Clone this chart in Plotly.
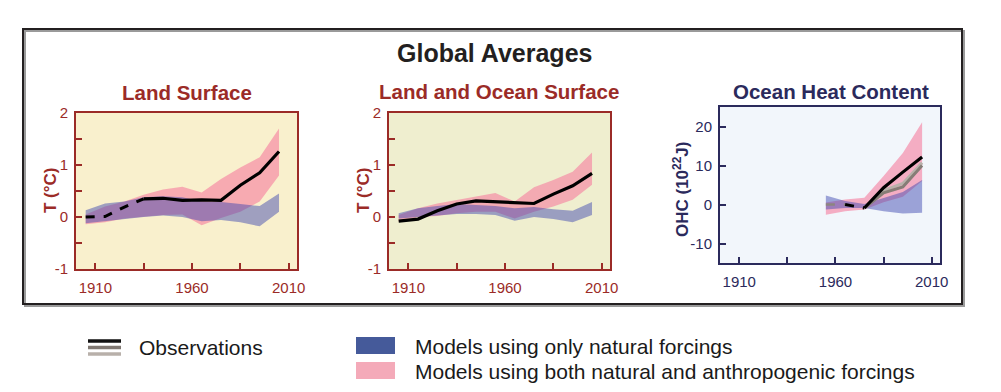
import plotly.graph_objects as go
import numpy as np

W, H = 1001, 392

# ---------------- data ----------------
decades = [1905, 1915, 1925, 1935, 1945, 1955, 1965, 1975, 1985, 1995, 2005]

land_obs = [0.00, 0.01, 0.19, 0.35, 0.36, 0.32, 0.33, 0.32, 0.61, 0.85, 1.26]
land_both_lo = [-0.14, -0.10, -0.03, 0.00, 0.04, 0.05, -0.16, -0.02, 0.10, 0.30, 0.80]
land_both_hi = [0.05, 0.20, 0.30, 0.43, 0.53, 0.58, 0.47, 0.73, 0.95, 1.15, 1.70]
land_nat_lo = [-0.12, -0.08, -0.03, 0.00, 0.03, 0.00, -0.08, -0.06, -0.10, -0.18, 0.10]
land_nat_hi = [0.13, 0.26, 0.30, 0.38, 0.40, 0.38, 0.30, 0.29, 0.25, 0.21, 0.45]

lo_obs = [-0.08, -0.04, 0.12, 0.25, 0.31, 0.29, 0.28, 0.26, 0.44, 0.60, 0.84]
lo_both_lo = [-0.09, 0.00, 0.02, 0.07, 0.10, 0.10, -0.03, 0.10, 0.20, 0.33, 0.62]
lo_both_hi = [0.04, 0.17, 0.26, 0.33, 0.39, 0.46, 0.30, 0.57, 0.71, 0.87, 1.24]
lo_nat_lo = [-0.03, 0.00, 0.02, 0.06, 0.06, 0.04, -0.07, 0.00, -0.04, -0.10, 0.04]
lo_nat_hi = [0.07, 0.17, 0.21, 0.25, 0.23, 0.21, 0.17, 0.19, 0.15, 0.12, 0.29]

ohc_years = [1955, 1965, 1975, 1985, 1995, 2005]
ohc_obs_black = [np.nan, 0.0, -0.9, 4.3, 8.3, 12.2]
ohc_obs_grey = [0.0, 0.0, -0.9, 3.0, 4.5, 10.0]
ohc_obs_lightgrey = [np.nan, np.nan, -0.9, 3.6, 5.4, 10.7]
ohc_both_lo = [-2.6, -1.7, -1.3, 0.6, 2.0, 6.0]
ohc_both_hi = [0.5, 1.3, 1.7, 7.3, 13.2, 21.1]
ohc_nat_lo = [-1.3, -0.9, -0.9, -1.7, -2.3, -2.1]
ohc_nat_hi = [2.3, 0.9, 0.1, 1.7, 3.2, 6.3]

x_major = [1910, 1960, 2010]
x_minor = [1935, 1985]
t_major = [-1, 0, 1, 2]
t_major_text = ["-1", "0", "1", "2"]
t_minor = [-0.5, 0.5, 1.5]
ohc_major = [-10, 0, 10, 20]
ohc_major_text = ["-10", "0", "10", "20"]

# ---------------- styles ----------------
RED = "#9b2b27"
NAVY = "#2b2a5c"
PINK_FILL = "rgba(245,128,160,0.62)"
BLUE_FILL = "rgba(60,72,175,0.48)"
FONT = "Liberation Sans, Arial, sans-serif"


def px(x):
    return x / W


def py(y):
    return 1 - y / H


fig = go.Figure()


def add_band(xs, lo, hi, color, xa, ya):
    fig.add_trace(go.Scatter(x=xs, y=lo, mode="lines", line=dict(width=0),
                             hoverinfo="skip", showlegend=False, xaxis=xa, yaxis=ya))
    fig.add_trace(go.Scatter(x=xs, y=hi, mode="lines", line=dict(width=0),
                             fill="tonexty", fillcolor=color,
                             hoverinfo="skip", showlegend=False, xaxis=xa, yaxis=ya))


def add_line(xs, ys, color, dash, width, xa, ya):
    fig.add_trace(go.Scatter(x=xs, y=ys, mode="lines",
                             line=dict(color=color, width=width, dash=dash),
                             showlegend=False, xaxis=xa, yaxis=ya))


# Panel 1: Land Surface
add_band(decades, land_both_lo, land_both_hi, PINK_FILL, "x", "y")
add_band(decades, land_nat_lo, land_nat_hi, BLUE_FILL, "x", "y")
add_line(decades[:4], land_obs[:4], "black", "dash", 3, "x", "y")
add_line(decades[3:], land_obs[3:], "black", "solid", 3.2, "x", "y")

# Panel 2: Land and Ocean Surface
add_band(decades, lo_both_lo, lo_both_hi, PINK_FILL, "x2", "y2")
add_band(decades, lo_nat_lo, lo_nat_hi, BLUE_FILL, "x2", "y2")
add_line(decades, lo_obs, "black", "solid", 3.2, "x2", "y2")

# Panel 3: Ocean Heat Content
add_band(ohc_years, ohc_both_lo, ohc_both_hi, PINK_FILL, "x3", "y3")
add_band(ohc_years, ohc_nat_lo, ohc_nat_hi, BLUE_FILL, "x3", "y3")
add_line(ohc_years[:2], ohc_obs_grey[:2], "#8c8580", "dash", 2.5, "x3", "y3")
add_line(ohc_years[2:], ohc_obs_lightgrey[2:], "#b9b1aa", "solid", 3, "x3", "y3")
add_line(ohc_years[2:], ohc_obs_grey[2:], "#867d76", "solid", 3, "x3", "y3")
add_line(ohc_years[1:3], ohc_obs_black[1:3], "black", "dash", 3, "x3", "y3")
add_line(ohc_years[2:], ohc_obs_black[2:], "black", "solid", 3.2, "x3", "y3")

# ---------------- axes ----------------
panels = [
    ("", (76, 297), (113, 269), RED, [-1, 2], t_major, t_major_text, t_minor),
    ("2", (389, 610), (113, 269), RED, [-1, 2], t_major, t_major_text, t_minor),
    ("3", (720, 940), (107, 263), NAVY, [-15, 25], ohc_major, ohc_major_text, []),
]
layout_axes = {}
for suf, (xl, xr), (yt, yb), col, yr, ymaj, ytext, ymin in panels:
    common = dict(showline=True, mirror=True, linecolor=col, linewidth=2,
                  ticks="inside", ticklen=6, tickwidth=2, tickcolor=col,
                  showgrid=False, zeroline=False, automargin=False,
                  tickfont=dict(family=FONT, size=15, color=col))
    minor_style = dict(ticks="inside", ticklen=6, tickwidth=2, tickcolor=col, showgrid=False)
    layout_axes["xaxis" + suf] = dict(domain=[px(xl), px(xr)], range=[1900, 2014.3],
                                      anchor="y" + suf, tickmode="array", tickvals=x_major,
                                      ticktext=[str(v) for v in x_major],
                                      minor=dict(tickmode="array", tickvals=x_minor, **minor_style),
                                      ticklabelstandoff=4, **common)
    ydict = dict(domain=[py(yb), py(yt)], range=yr, anchor="x" + suf,
                 tickmode="array", tickvals=ymaj, ticktext=ytext,
                 ticklabelstandoff=3, **common)
    if ymin:
        ydict["minor"] = dict(tickmode="array", tickvals=ymin, **minor_style)
    layout_axes["yaxis" + suf] = ydict

fig.update_layout(**layout_axes)

# backgrounds of panels
shapes = []
for suf, bg in [("", "#f9f0cd"), ("2", "#efeecf"), ("3", "#f2f6fb")]:
    shapes.append(dict(type="rect", xref=("x" + suf) + " domain", yref=("y" + suf) + " domain",
                       x0=0, x1=1, y0=0, y1=1, fillcolor=bg, line=dict(width=0), layer="below"))

# outer frame with slight shadow
shapes.append(dict(type="rect", xref="paper", yref="paper",
                   x0=px(25), x1=px(964), y0=py(306), y1=py(31),
                   line=dict(color="#9a9a9a", width=2), layer="below"))
shapes.append(dict(type="rect", xref="paper", yref="paper",
                   x0=px(23), x1=px(962), y0=py(304), y1=py(29),
                   line=dict(color="#231f20", width=2), fillcolor="rgba(0,0,0,0)"))

# legend graphics
shapes.append(dict(type="line", xref="paper", yref="paper", x0=px(88), x1=px(121),
                   y0=py(341), y1=py(341), line=dict(color="#111111", width=3.4)))
shapes.append(dict(type="line", xref="paper", yref="paper", x0=px(88), x1=px(121),
                   y0=py(347.5), y1=py(347.5), line=dict(color="#807872", width=3.4)))
shapes.append(dict(type="line", xref="paper", yref="paper", x0=px(88), x1=px(121),
                   y0=py(354), y1=py(354), line=dict(color="#b8b0aa", width=3.4)))
shapes.append(dict(type="rect", xref="paper", yref="paper", x0=px(356), x1=px(395),
                   y0=py(354), y1=py(337), fillcolor="#455a9a", line=dict(width=0)))
shapes.append(dict(type="rect", xref="paper", yref="paper", x0=px(356), x1=px(395),
                   y0=py(379), y1=py(362), fillcolor="#f4aab9", line=dict(width=0)))

annotations = [
    dict(text="<b>Global Averages</b>", x=px(494), y=py(53), font=dict(size=25, color="#231f20")),
    dict(text="<b>Land Surface</b>", x=px(187), y=py(92), font=dict(size=20.5, color=RED)),
    dict(text="<b>Land and Ocean Surface</b>", x=px(499), y=py(91), font=dict(size=20.5, color=RED)),
    dict(text="<b>Ocean Heat Content</b>", x=px(831), y=py(91), font=dict(size=20.5, color=NAVY)),
    dict(text="<b>T (°C)</b>", x=px(51), y=py(190), textangle=-90, font=dict(size=17, color=RED)),
    dict(text="<b>T (°C)</b>", x=px(364), y=py(190), textangle=-90, font=dict(size=17, color=RED)),
    dict(text="<b>OHC (10<sup>22</sup>J)</b>", x=px(681), y=py(190), textangle=-90,
         font=dict(size=17, color=NAVY)),
    dict(text="Observations", x=px(137), y=py(347), xanchor="left", font=dict(size=21, color="#1a1a1a")),
    dict(text="Models using only natural forcings", x=px(413), y=py(346), xanchor="left",
         font=dict(size=21, color="#1a1a1a")),
    dict(text="Models using both natural and anthropogenic forcings", x=px(413), y=py(371),
         xanchor="left", font=dict(size=21, color="#1a1a1a")),
]
for a in annotations:
    a.update(xref="paper", yref="paper", showarrow=False)
    a.setdefault("xanchor", "center")
    a["yanchor"] = "middle"
    a["font"]["family"] = FONT

fig.update_layout(
    width=W, height=H,
    margin=dict(l=0, r=0, t=0, b=0, pad=0, autoexpand=False),
    paper_bgcolor="white",
    plot_bgcolor="rgba(0,0,0,0)",
    showlegend=False,
    shapes=shapes,
    annotations=annotations,
)

fig.write_html("out.html", config={"displayModeBar": False},
               post_script="document.body.style.margin='0px';document.body.style.overflow='hidden';")
